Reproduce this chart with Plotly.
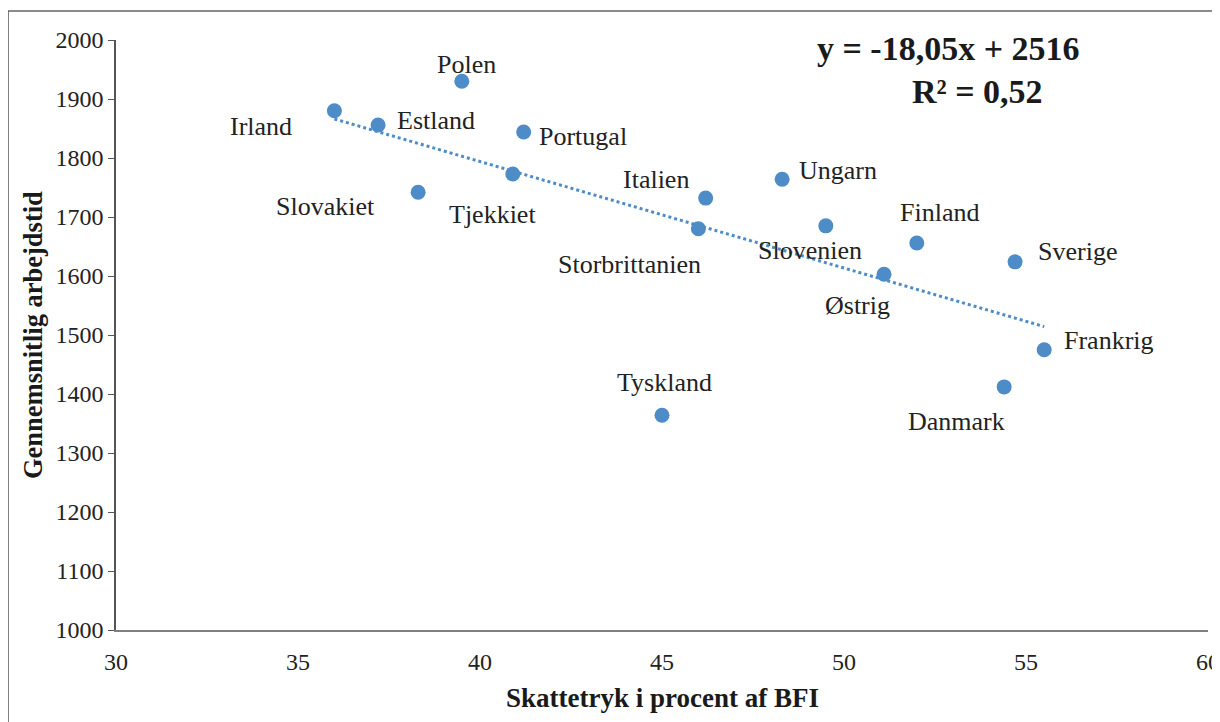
import plotly.graph_objects as go

# ---- data ----
countries = ["Irland", "Estland", "Polen", "Portugal", "Slovakiet", "Tjekkiet",
             "Italien", "Storbrittanien", "Ungarn", "Slovenien", "Finland",
             "Østrig", "Sverige", "Frankrig", "Danmark", "Tyskland"]
skattetryk = [36.0, 37.2, 39.5, 41.2, 38.3, 40.9,
              46.2, 46.0, 48.3, 49.5, 52.0,
              51.1, 54.7, 55.5, 54.4, 45.0]
arbejdstid = [1880, 1856, 1930, 1844, 1742, 1773,
              1732, 1680, 1764, 1685, 1656,
              1603, 1624, 1475, 1412, 1364]
trend_slope = -18.05
trend_intercept = 2516
equation_line1 = "y = -18,05x + 2516"
equation_line2 = "R² = 0,52"
x_title = "Skattetryk i procent af BFI"
y_title = "Gennemsnitlig arbejdstid"

# ---- styling / label placement (pixels) ----
label_dx = [-73, 58, 5, 59, -93, -20, -50, -69, 56, -16, 23, -27, 62, 65, -48, 2]
label_dy = [-16, 4, 17, -4, -14, -41, 19, -36, 9, -25, 30, -31, 10, 9, -35, 33]
blue = "#4d8cc6"
serif = "Liberation Serif, Times New Roman, serif"

W, H = 1212, 714
L, R, T, B = 108, 12, 32, 92
pw, ph = W - L - R, H - T - B

fig = go.Figure()

x0, x1 = min(skattetryk), max(skattetryk)
fig.add_trace(go.Scatter(
    x=[x0, x1],
    y=[trend_slope * x0 + trend_intercept, trend_slope * x1 + trend_intercept],
    mode="lines", line=dict(color=blue, width=3, dash="dot"),
    hoverinfo="skip", showlegend=False))

fig.add_trace(go.Scatter(
    x=skattetryk, y=arbejdstid, mode="markers", text=countries,
    marker=dict(color=blue, size=15), showlegend=False))

for c, xv, yv, dx, dy in zip(countries, skattetryk, arbejdstid, label_dx, label_dy):
    fig.add_annotation(x=xv, y=yv, text=c, showarrow=False,
                       xshift=dx, yshift=dy, xanchor="center", yanchor="middle",
                       font=dict(family=serif, size=26, color="#222222"))

# regression equation
fig.add_annotation(xref="paper", yref="paper", x=(948 - 116) / pw, y=1,
                   yshift=-8, xanchor="center", yanchor="middle",
                   text="<b>" + equation_line1 + "</b>", showarrow=False,
                   font=dict(family=serif, size=34, color="#1a1a1a"))
fig.add_annotation(xref="paper", yref="paper", x=(977 - 116) / pw, y=1,
                   yshift=-51, xanchor="center", yanchor="middle",
                   text="<b>" + equation_line2 + "</b>", showarrow=False,
                   font=dict(family=serif, size=34, color="#1a1a1a"))

fig.add_annotation(xref="paper", yref="paper", x=0.5, y=0, yshift=-68,
                   text="<b>" + x_title + "</b>", showarrow=False,
                   xanchor="center", yanchor="middle",
                   font=dict(family=serif, size=27, color="#1a1a1a"))
fig.add_annotation(xref="paper", yref="paper", x=0, y=0.5, xshift=-83,
                   text="<b>" + y_title + "</b>", textangle=-90, showarrow=False,
                   xanchor="center", yanchor="middle",
                   font=dict(family=serif, size=26.5, color="#1a1a1a"))

# page frame (left and top edges)
fy = 1 + 29 / ph
fx = -108 / pw
fig.add_shape(type="line", xref="paper", yref="paper", x0=fx, x1=1.2,
              y0=fy, y1=fy, line=dict(color="#8a8a8a", width=2))
fig.add_shape(type="line", xref="paper", yref="paper", x0=fx, x1=fx,
              y0=-0.3, y1=fy, line=dict(color="#555555", width=1.5))

fig.update_layout(
    width=W, height=H,
    margin=dict(l=L, r=R, t=T, b=B, autoexpand=False),
    paper_bgcolor="white", plot_bgcolor="white",
    font=dict(family=serif, size=24, color="#222222"),
    xaxis=dict(range=[30, 60], dtick=5, showgrid=False, zeroline=False,
               automargin=False,
               showline=True, linecolor="#808080", linewidth=2,
               ticks="outside", ticklen=9, tickcolor="rgba(0,0,0,0)",
               tickfont=dict(family=serif, size=24, color="#222222")),
    yaxis=dict(range=[1000, 2000], dtick=100, showgrid=False, zeroline=False,
               automargin=False,
               showline=True, linecolor="#555555", linewidth=1.5,
               ticks="outside", ticklen=6, tickcolor="#555555",
               tickfont=dict(family=serif, size=24, color="#222222")),
)

fig.write_html("out.html")
